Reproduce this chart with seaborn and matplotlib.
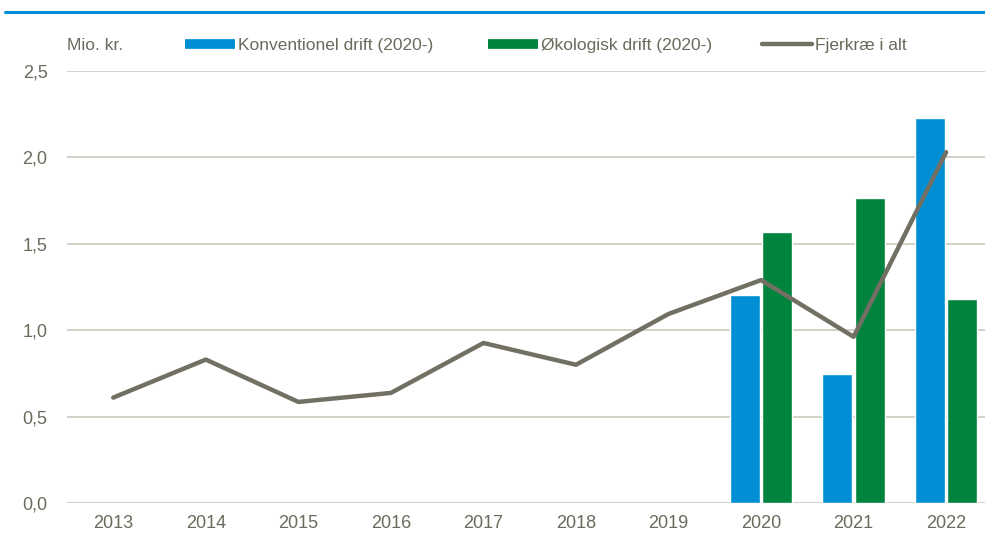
import matplotlib
matplotlib.use("Agg")
import matplotlib.pyplot as plt
from matplotlib.lines import Line2D
import seaborn as sns
import numpy as np
import pandas as pd

years = ["2013", "2014", "2015", "2016", "2017", "2018", "2019", "2020", "2021", "2022"]
total = [0.61, 0.83, 0.585, 0.637, 0.926, 0.80, 1.094, 1.29, 0.962, 2.03]
bar_years = ["2020", "2021", "2022"]
konventionel = [1.204, 0.746, 2.226]
okologisk = [1.57, 1.763, 1.18]
series_names = ["Konventionel drift (2020-)", "Økologisk drift (2020-)", "Fjerkræ i alt"]
yticks = [0.0, 0.5, 1.0, 1.5, 2.0, 2.5]

BLUE = "#008fd5"
GREEN = "#00843d"
GRAY = "#727063"
TXT = "#6b6a5c"
GRID = "#c9c9bd"

sns.set_theme(style="white")
FONT = ["Liberation Sans Narrow", "Liberation Sans", "DejaVu Sans"]
plt.rcParams["font.family"] = FONT

bars = pd.DataFrame({
    "year": bar_years * 2,
    "value": konventionel + okologisk,
    "series": [series_names[0]] * 3 + [series_names[1]] * 3,
})

fig = plt.figure(figsize=(9.85, 5.42), dpi=100)
ax = fig.add_axes([67 / 985, 1 - 503 / 542, (985 - 67) / 985, (503 - 71) / 542])

sns.barplot(data=bars, x="year", y="value", hue="series", order=years,
            hue_order=series_names[:2], palette=[BLUE, GREEN],
            width=0.7, gap=0.08, saturation=1, legend=False, ax=ax, zorder=2)
sns.lineplot(x=np.arange(len(years)), y=total, color=GRAY, linewidth=3.2,
             ax=ax, zorder=3, legend=False)

ax.set_xlim(-0.5, 9.42)
ax.set_ylim(0, 2.5)
ax.set_yticks(yticks)
ax.set_yticklabels([f"{v:.1f}".replace(".", ",") for v in yticks])
ax.set_xticks(range(len(years)))
ax.set_xticklabels(years)
ax.set_xlabel("")
ax.set_ylabel("")
for s in ax.spines.values():
    s.set_visible(False)
ax.grid(axis="y", color=GRID, linewidth=1.2, zorder=0)
ax.set_axisbelow(True)
ax.tick_params(axis="both", length=0, labelsize=13, labelcolor=TXT)
ax.tick_params(axis="y", pad=14)
ax.tick_params(axis="x", pad=9)

# top rule
fig.add_artist(Line2D([5 / 985, 1.0], [1 - 12 / 542] * 2, color=BLUE, linewidth=2.2,
                      transform=fig.transFigure))

LEG_FS = 12.5
fig.text(67 / 985, 1 - 45 / 542, "Mio. kr.", fontsize=LEG_FS, color=TXT, va="center", ha="left")

handles = [Line2D([], [], color=BLUE, linewidth=7, solid_capstyle="butt"),
           Line2D([], [], color=GREEN, linewidth=7, solid_capstyle="butt"),
           Line2D([], [], color=GRAY, linewidth=3.2, solid_capstyle="round")]
starts = [185, 488, 762]
hl = 50 / (LEG_FS * 100 / 72)
for h, name, x0 in zip(handles, series_names, starts):
    leg = fig.legend([h], [name], loc="center left",
                     bbox_to_anchor=(x0 / 985, 1 - 45 / 542), frameon=False,
                     fontsize=LEG_FS, handlelength=hl, handletextpad=0.15,
                     borderaxespad=0, borderpad=0)
    for t in leg.get_texts():
        t.set_color(TXT)

fig.savefig("out.png", dpi=100)
